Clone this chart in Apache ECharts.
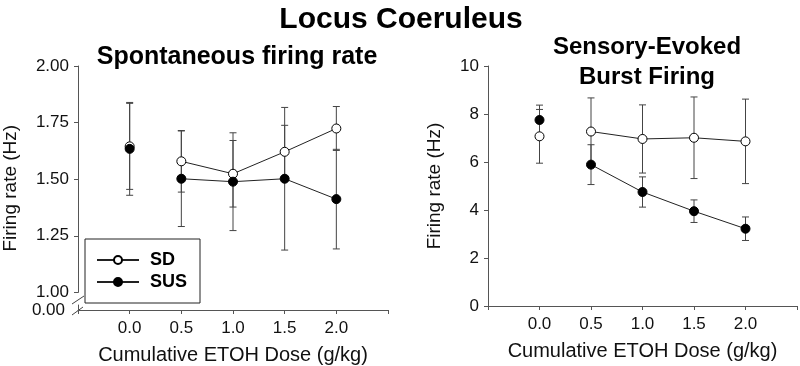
<!DOCTYPE html>
<html>
<head>
<meta charset="utf-8">
<title>Locus Coeruleus</title>
<script src="https://cdn.jsdelivr.net/npm/echarts@6/dist/echarts.min.js"></script>
<style>
    html, body { margin: 0; padding: 0; background: #fff; }
    #mychart { width: 800px; height: 366px; }
</style>
</head>
<body>
<div id="mychart"></div>
<script>
// 剂量 (g/kg)
var doses = [0, 0.5, 1.0, 1.5, 2.0];
var xTicks = ['0.0', '0.5', '1.0', '1.5', '2.0'];

// 自发放电 (Hz)
var spontSD = [1.645, 1.579, 1.524, 1.621, 1.724];
var spontSDErr = [0.19, 0.136, 0.147, 0.117, 0.097];
var spontSUS = [1.634, 1.502, 1.489, 1.502, 1.412];
var spontSUSErr = [0.205, 0.211, 0.216, 0.315, 0.22];

// 感觉诱发爆发放电 (Hz)
var burstSD = [7.07, 7.27, 6.96, 7.01, 6.86];
var burstSDErr = [1.12, 1.4, 1.42, 1.7, 1.76];
var burstSUS = [7.75, 5.89, 4.75, 3.95, 3.22];
var burstSUSErr = [0.62, 0.83, 0.63, 0.47, 0.49];

var FONT = '"Liberation Sans", Arial, sans-serif';
var AXIS_COLOR = '#555';

// 基线点单独画, 0.5 以后连线
function pts(vals, from, to) {
    var out = [];
    for (var i = from; i < to; i++) out.push([doses[i], vals[i]]);
    return out;
}
function errData(vals, errs) {
    return doses.map(function (d, i) {
        return [d, vals[i] - errs[i], vals[i] + errs[i]];
    });
}

// 误差线
function errorBarItem(params, api) {
    var top = api.coord([api.value(0), api.value(2)]);
    var bot = api.coord([api.value(0), api.value(1)]);
    var half = 3.5;
    var style = { stroke: '#444', lineWidth: 1 };
    return {
        type: 'group',
        children: [
            { type: 'line', shape: { x1: top[0], y1: top[1], x2: bot[0], y2: bot[1] }, style: style },
            { type: 'line', shape: { x1: top[0] - half, y1: top[1], x2: top[0] + half, y2: top[1] }, style: style },
            { type: 'line', shape: { x1: bot[0] - half, y1: bot[1], x2: bot[0] + half, y2: bot[1] }, style: style }
        ]
    };
}

function xAxisCfg(gridIndex, show) {
    return {
        type: 'value',
        gridIndex: gridIndex,
        show: show,
        min: -0.5,
        max: 2.5,
        interval: 0.5,
        name: 'Cumulative ETOH Dose (g/kg)',
        nameLocation: 'middle',
        nameGap: 35,
        nameTextStyle: { fontFamily: FONT, fontSize: 20, color: '#111' },
        axisLine: { onZero: false, lineStyle: { color: AXIS_COLOR, width: 1 } },
        axisTick: { length: 4, lineStyle: { color: AXIS_COLOR } },
        axisLabel: {
            margin: 10,
            fontFamily: FONT,
            fontSize: 17,
            color: '#111',
            formatter: function (v) {
                var idx = doses.indexOf(v);
                return idx >= 0 ? xTicks[idx] : '';
            }
        },
        splitLine: { show: false }
    };
}

function yAxisCfg(gridIndex, min, max, interval, digits) {
    return {
        type: 'value', gridIndex: gridIndex, min: min, max: max, interval: interval,
        axisLine: { show: true, onZero: false, lineStyle: { color: AXIS_COLOR } },
        axisTick: { show: true, length: 4, lineStyle: { color: AXIS_COLOR } },
        axisLabel: {
            margin: 9, fontFamily: FONT, fontSize: 17, color: '#111',
            showMinLabel: true,
            formatter: function (v) { return v.toFixed(digits); }
        },
        splitLine: { show: false }
    };
}

var SD_ITEM = { color: '#fff', borderColor: '#000', borderWidth: 1, opacity: 1 };
var SUS_ITEM = { color: '#000', borderColor: '#000', borderWidth: 1, opacity: 1 };
var LINE_STYLE = { color: '#222', width: 1 };

function lineSeries(name, vals, xi, yi, itemStyle) {
    return {
        name: name, type: 'line', xAxisIndex: xi, yAxisIndex: yi,
        data: pts(vals, 1, 5),
        symbol: 'circle', symbolSize: 9,
        itemStyle: itemStyle, lineStyle: LINE_STYLE,
        z: 5
    };
}
function baseSeries(name, vals, xi, yi, itemStyle) {
    return {
        name: name, type: 'scatter', xAxisIndex: xi, yAxisIndex: yi,
        data: pts(vals, 0, 1),
        symbol: 'circle', symbolSize: 9,
        itemStyle: itemStyle,
        z: 5
    };
}
function errSeries(vals, errs, xi, yi) {
    return {
        type: 'custom', xAxisIndex: xi, yAxisIndex: yi,
        renderItem: errorBarItem,
        encode: { x: 0, y: [1, 2] },
        data: errData(vals, errs),
        silent: true,
        z: 2
    };
}

var yLeft = yAxisCfg(0, 1, 2, 0.25, 2);
yLeft.name = 'Firing rate (Hz)';
yLeft.nameLocation = 'middle';
yLeft.nameGap = 58;
// 名称略向下, 居于整条断轴中部
yLeft.nameTextStyle = { fontFamily: FONT, fontSize: 19, color: '#111', padding: [0, 0, 0, -18] };

// 断轴下半段只显示 0.00
var yBreak = yAxisCfg(1, 0, 1, 1, 2);
yBreak.axisTick.show = false;
yBreak.axisLabel.showMaxLabel = false;
yBreak.axisLabel.margin = 13;

var yRight = yAxisCfg(2, 0, 10, 2, 0);
yRight.name = 'Firing rate (Hz)';
yRight.nameLocation = 'middle';
yRight.nameGap = 44;
yRight.nameTextStyle = { fontFamily: FONT, fontSize: 19, color: '#111' };

var myChart = echarts.init(document.getElementById('mychart'));
var option = {
    backgroundColor: '#fff',
    animation: false,
    title: [
        {
            text: 'Locus Coeruleus', left: 396, top: 0, textAlign: 'center',
            textStyle: { fontFamily: FONT, fontSize: 30, fontWeight: 'bold', color: '#000' }
        },
        {
            text: 'Spontaneous firing rate', left: 232, top: 40, textAlign: 'center',
            textStyle: { fontFamily: FONT, fontSize: 25, fontWeight: 'bold', color: '#000' }
        },
        {
            text: 'Sensory-Evoked\nBurst Firing', left: 642, top: 27, textAlign: 'center',
            textStyle: { fontFamily: FONT, fontSize: 24, fontWeight: 'bold', color: '#000', lineHeight: 30 }
        }
    ],
    legend: {
        data: ['SD', 'SUS'],
        orient: 'vertical',
        left: 85,
        top: 239,
        padding: [12, 13, 12, 11],
        itemWidth: 42,
        itemHeight: 10,
        itemGap: 4,
        borderColor: '#222',
        borderWidth: 1,
        backgroundColor: '#fff',
        selectedMode: false,
        textStyle: { fontFamily: FONT, fontSize: 18, fontWeight: 'bold', color: '#000', lineHeight: 18, padding: [0, 0, 0, 6] }
    },
    // 左: 上半 (1.00-2.00), 下半 (0.00 断轴), 右
    grid: [
        { left: 78, right: 412, top: 66, bottom: 73.6 },
        { left: 78, right: 412, top: 305, bottom: 55.3 },
        { left: 488, right: 2, top: 66, bottom: 56.7 }
    ],
    xAxis: [xAxisCfg(0, false), xAxisCfg(1, true), xAxisCfg(2, true)],
    yAxis: [yLeft, yBreak, yRight],
    // 断轴标记 "//"
    graphic: [
        { type: 'line', shape: { x1: 72, y1: 304, x2: 84, y2: 296 }, style: { stroke: '#444', lineWidth: 1 } },
        { type: 'line', shape: { x1: 72, y1: 315, x2: 83, y2: 307 }, style: { stroke: '#444', lineWidth: 1 } }
    ],
    series: [
        lineSeries('SD', spontSD, 0, 0, SD_ITEM),
        lineSeries('SUS', spontSUS, 0, 0, SUS_ITEM),
        baseSeries('SD', spontSD, 0, 0, SD_ITEM),
        baseSeries('SUS', spontSUS, 0, 0, SUS_ITEM),
        errSeries(spontSD, spontSDErr, 0, 0),
        errSeries(spontSUS, spontSUSErr, 0, 0),

        lineSeries('SD', burstSD, 2, 2, SD_ITEM),
        lineSeries('SUS', burstSUS, 2, 2, SUS_ITEM),
        baseSeries('SD', burstSD, 2, 2, SD_ITEM),
        baseSeries('SUS', burstSUS, 2, 2, SUS_ITEM),
        errSeries(burstSD, burstSDErr, 2, 2),
        errSeries(burstSUS, burstSUSErr, 2, 2)
    ]
};
myChart.setOption(option);
</script>
</body>
</html>
